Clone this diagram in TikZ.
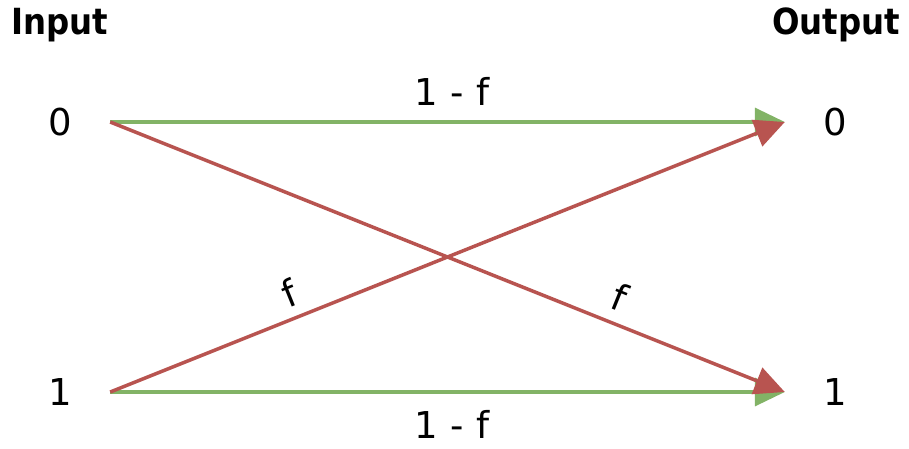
\documentclass[tikz,border=0pt]{standalone}
\usepackage{fontspec}
\setmainfont{DejaVu Sans}
\newfontfamily\headfont{DejaVu Sans Condensed}
\usetikzlibrary{arrows.meta}
\definecolor{grn}{HTML}{82B366}
\definecolor{rd}{HTML}{B85450}
\begin{document}
\begin{tikzpicture}[x=1pt,y=-1pt,
  lbl/.style={font=\fontsize{37}{42}\selectfont, inner sep=0pt},
  head/.style={font=\headfont\bfseries\fontsize{36}{42}\selectfont, inner sep=0pt},
  innode/.style={lbl, minimum width=100pt, minimum height=30pt},
  link/.style={line width=3.5pt, -{Triangle[length=30pt,width=28pt]}},
  glink/.style={link, draw=grn, fill=grn},
  rlink/.style={link, draw=rd, fill=rd}]
\useasboundingbox (0,0) rectangle (909,448);
\node[head] (hin) at (60,25) {Input};
\node[head] (hout) at (836,25) {Output};
\node[innode] (in0) at (60,122) {0};
\node[innode] (in1) at (60,392) {1};
\node[innode] (out0) at (835,122) {0};
\node[innode] (out1) at (835,392) {1};
\draw[glink] (in0.east) -- (out0.west);
\draw[glink] (in1.east) -- (out1.west);
\draw[rlink] (in0.east) -- (out1.west);
\draw[rlink] (in1.east) -- (out0.west);
\node[lbl] (t0) at (452,91) {1\,\,-\,\,f};
\node[lbl] (t1) at (452,424) {1\,\,-\,\,f};
\node[lbl, rotate=22] (fl) at (289,293) {f};
\node[lbl, rotate=-22] (fr) at (620,297) {f};
\end{tikzpicture}
\end{document}
